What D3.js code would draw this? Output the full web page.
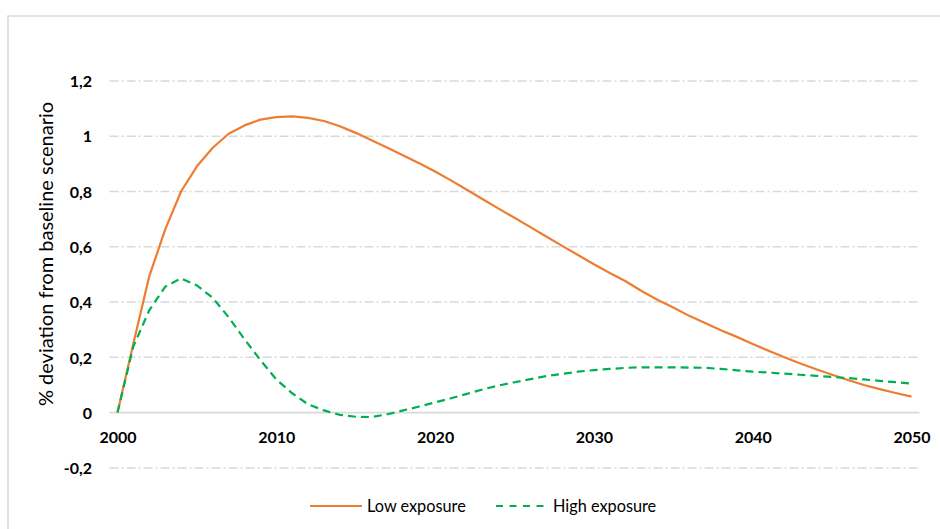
<!DOCTYPE html>
<html><head><meta charset="utf-8">
<script src="https://cdn.jsdelivr.net/npm/d3@7"></script>
<style>body{margin:0;background:#fff}svg{display:block}</style>
</head><body>
<svg id="c" width="940" height="529"></svg>
<script>
const years = d3.range(2000, 2051);
const lowExposure = [0, 0.25, 0.493, 0.662, 0.80, 0.891, 0.958, 1.009, 1.039, 1.06, 1.069, 1.072, 1.066, 1.055, 1.036, 1.012, 0.985, 0.958, 0.93, 0.902, 0.872,
  0.84, 0.806, 0.772, 0.738, 0.705, 0.671, 0.637, 0.603, 0.57, 0.537, 0.505, 0.475, 0.44, 0.408, 0.38, 0.35, 0.324, 0.298, 0.274, 0.248,
  0.224, 0.2, 0.178, 0.157, 0.137, 0.118, 0.1, 0.085, 0.071, 0.058];
const highExposure = [0, 0.24, 0.37, 0.455, 0.486, 0.46, 0.415, 0.345, 0.265, 0.19, 0.12, 0.07, 0.03, 0.008, -0.008, -0.015, -0.016, -0.006, 0.008, 0.022, 0.037,
  0.052, 0.068, 0.084, 0.098, 0.11, 0.121, 0.132, 0.14, 0.148, 0.154, 0.158, 0.162, 0.164, 0.164, 0.164, 0.163, 0.162, 0.158, 0.153, 0.148,
  0.145, 0.141, 0.137, 0.133, 0.129, 0.125, 0.12, 0.115, 0.11, 0.105];
const xTicks = [2000, 2010, 2020, 2030, 2040, 2050];
const yTicks = [-0.2, 0, 0.2, 0.4, 0.6, 0.8, 1, 1.2];
const seriesNames = ["Low exposure", "High exposure"];
const yLabel = "% deviation from baseline scenario";

const svg = d3.select("#c");
const x = d3.scaleLinear().domain([2000, 2050]).range([117.5, 911.5]);
const y = d3.scaleLinear().domain([-0.2, 1.2]).range([467.9, 80.9]);
const fmt = v => (v === 0 ? "0" : String(+v.toFixed(1))).replace(".", ",").replace("\u2212", "-");

// frame
svg.append("rect").attr("x", 8).attr("y", 16).attr("width", 1000).attr("height", 1000)
  .attr("fill", "none").attr("stroke", "#d9d9d9").attr("stroke-width", 1.5);

const x0 = x(1999.5), x1 = x(2050.5);
// gridlines
svg.append("g").selectAll("line").data(yTicks.filter(d => d !== 0)).join("line")
  .attr("x1", x0).attr("x2", x1).attr("y1", d => y(d)).attr("y2", d => y(d))
  .attr("stroke", "#d9d9d9").attr("stroke-width", 1.5).attr("stroke-dasharray", "9,3,2,3");
// zero line
svg.append("line").attr("x1", x0).attr("x2", x1).attr("y1", y(0)).attr("y2", y(0))
  .attr("stroke", "#d9d9d9").attr("stroke-width", 1.8);

// y tick labels
const yAxis = d3.axisLeft(y).tickValues(yTicks).tickFormat(fmt).tickSize(0).tickPadding(0);
const gy = svg.append("g").attr("transform", `translate(92,0)`).call(yAxis);
gy.select(".domain").remove();
gy.selectAll("text").attr("font-family", "Lato").attr("font-weight", "bold").attr("font-size", 16).attr("fill", "#000").attr("dy", "0.36em");

// x tick labels
const xAxis = d3.axisBottom(x).tickValues(xTicks).tickFormat(d3.format("d")).tickSize(0).tickPadding(0);
const gx = svg.append("g").attr("transform", `translate(0,${y(0) + 30.5})`).call(xAxis);
gx.select(".domain").remove();
gx.selectAll("text").attr("font-family", "Lato").attr("font-weight", "bold").attr("font-size", 16).attr("fill", "#000").attr("dy", 0);

// y label
svg.append("text").attr("transform", `translate(53,254) rotate(-90)`)
  .attr("text-anchor", "middle").attr("font-family", "Lato").attr("font-size", 20).attr("fill", "#000").text(yLabel);

const line = d3.line().x((d, i) => x(years[i])).y(d => y(d));
svg.append("path").datum(lowExposure).attr("d", line).attr("fill", "none")
  .attr("stroke", "#ED7D31").attr("stroke-width", 2.2).attr("stroke-linejoin", "round");
svg.append("path").datum(highExposure).attr("d", line).attr("fill", "none")
  .attr("stroke", "#00B050").attr("stroke-width", 2.2).attr("stroke-dasharray", "8,5");

// legend
const leg = svg.append("g").attr("font-family", "Lato").attr("font-size", 16.3);
const ly = 506;
leg.append("line").attr("x1", 310).attr("x2", 362).attr("y1", ly).attr("y2", ly).attr("stroke", "#ED7D31").attr("stroke-width", 2.2);
leg.append("text").attr("x", 367).attr("y", ly).attr("dy", "0.35em").text(seriesNames[0]);
leg.append("line").attr("x1", 496).attr("x2", 546).attr("y1", ly).attr("y2", ly).attr("stroke", "#00B050").attr("stroke-width", 2.2).attr("stroke-dasharray", "7,6.5");
leg.append("text").attr("x", 553).attr("y", ly).attr("dy", "0.35em").text(seriesNames[1]);
</script>
</body></html>
